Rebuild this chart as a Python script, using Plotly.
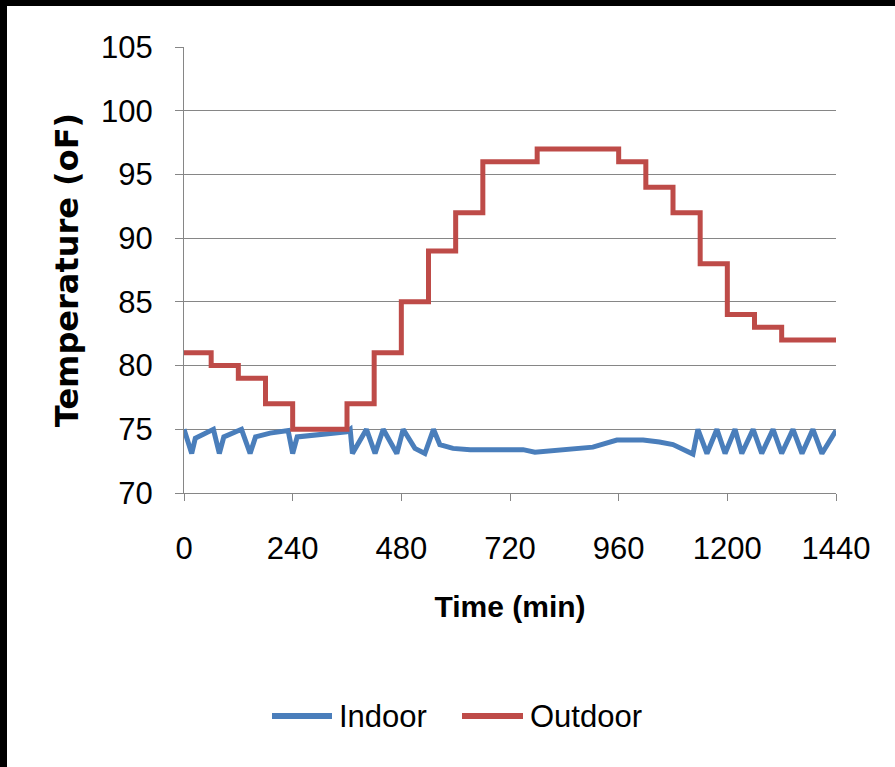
import plotly.graph_objects as go

# ---- data ----
outdoor_time = [0, 60, 120, 180, 240, 300, 360, 420, 480, 540, 600, 660, 720,
                780, 840, 900, 960, 1020, 1080, 1140, 1200, 1260, 1320, 1380, 1440]
outdoor_temp = [81, 80, 79, 77, 75, 75, 77, 81, 85, 89, 92, 96, 96,
                97, 97, 97, 96, 94, 92, 88, 84, 83, 82, 82, 82]

indoor_time = [0, 17, 25, 65, 78, 88, 127, 146, 158, 190, 230, 240, 250, 300, 359,
               367, 372, 403, 422, 440, 470, 484, 510, 532, 551, 565, 594, 632,
               749, 775, 810, 859, 903, 956, 1014, 1050, 1080, 1124, 1135, 1155,
               1177, 1195, 1217, 1232, 1257, 1276, 1301, 1320, 1345, 1365, 1389,
               1409, 1440]
indoor_temp = [75, 73.1, 74.3, 75, 73.1, 74.4, 75, 73.1, 74.4, 74.7, 74.9, 73.1, 74.4,
               74.6, 74.8, 75, 73.1, 75, 73.1, 75, 73.1, 75, 73.5, 73.1, 75, 73.8,
               73.5, 73.4, 73.4, 73.2, 73.3, 73.4, 73.6, 74.15, 74.15, 74.0, 73.8,
               73.06, 75, 73.1, 75, 73.1, 75, 73.1, 75, 73.1, 75, 73.1, 75, 73.1,
               75, 73.1, 74.9]

x_ticks = [0, 240, 480, 720, 960, 1200, 1440]
y_ticks = [70, 75, 80, 85, 90, 95, 100, 105]

series_names = ["Indoor", "Outdoor"]
series_colors = ["#4A7EBB", "#BE4B48"]

# ---- layout geometry (pixels) ----
W, H = 895, 767
L, R, T, B = 184, 59, 47, 274
PW, PH = W - L - R, H - T - B

def px_x(p):
    return (p - L) / PW

def px_y(p):
    return (H - B - p) / PH

TICK_FONT = dict(family="Liberation Sans, Arial", size=31, color="#000000")

fig = go.Figure()
fig.add_trace(go.Scatter(x=indoor_time, y=indoor_temp, mode="lines", name=series_names[0],
                         line=dict(color=series_colors[0], width=5), showlegend=False))
fig.add_trace(go.Scatter(x=outdoor_time, y=outdoor_temp, mode="lines", name=series_names[1],
                         line=dict(color=series_colors[1], width=5, shape="hv"), showlegend=False))

fig.update_layout(
    width=W, height=H,
    margin=dict(l=L, r=R, t=T, b=B, pad=0),
    paper_bgcolor="#FFFFFF", plot_bgcolor="#FFFFFF",
    xaxis=dict(range=[0, 1440], tickmode="array", tickvals=x_ticks,
               ticktext=[str(v) for v in x_ticks],
               showgrid=False, zeroline=False, showline=True, linecolor="#868686", linewidth=1,
               ticks="outside", ticklen=7, tickcolor="#868686", tickwidth=1,
               ticklabelstandoff=21,
               tickfont=TICK_FONT,
               title=dict(text="Time (min)", standoff=30,
                          font=dict(family="Liberation Sans, Arial",
                                    size=30, color="#000000", weight="bold"))),
    yaxis=dict(range=[70, 105], tickmode="array", tickvals=y_ticks,
               ticktext=[str(v) for v in y_ticks],
               showgrid=True, gridcolor="#868686", gridwidth=1,
               zeroline=False, showline=True, linecolor="#868686", linewidth=1,
               ticks="outside", ticklen=8, tickcolor="#868686", tickwidth=1,
               ticklabelstandoff=16,
               tickfont=TICK_FONT,
               title=dict(text="Temperature (oF)", standoff=12,
                          font=dict(family="DejaVu Sans", size=32, color="#000000", weight="bold"))),
)

# custom legend
legend_y = px_y(716)
legend_items = [(272, 332, 337), (462, 523, 528)]
for (x0, x1, xt), name, col in zip(legend_items, series_names, series_colors):
    fig.add_shape(type="line", xref="paper", yref="paper",
                  x0=px_x(x0), x1=px_x(x1), y0=legend_y, y1=legend_y,
                  line=dict(color=col, width=6))
    fig.add_annotation(xref="paper", yref="paper", x=px_x(xt), y=legend_y,
                       text=name, showarrow=False, xanchor="left", yanchor="middle",
                       font=TICK_FONT)

# black frame strips (top and left) as in the reference picture
fig.add_shape(type="rect", xref="paper", yref="paper", layer="above",
              x0=px_x(-5), x1=px_x(W + 5), y0=px_y(-5), y1=px_y(6),
              fillcolor="#000000", line=dict(width=0))
fig.add_shape(type="rect", xref="paper", yref="paper", layer="above",
              x0=px_x(-5), x1=px_x(7), y0=px_y(-5), y1=px_y(H + 5),
              fillcolor="#000000", line=dict(width=0))

fig.write_html("out.html")
